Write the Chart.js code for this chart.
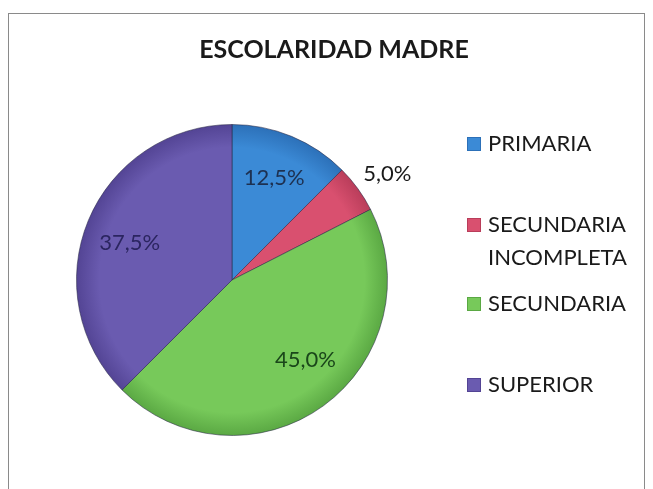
<!DOCTYPE html>
<html>
<head>
<meta charset="utf-8">
<script src="https://cdn.jsdelivr.net/npm/chart.js@4.4.1/dist/chart.umd.min.js"></script>
<style>
  body { margin: 0; background: #fff; }
  #wrap { position: relative; width: 653px; height: 489px; overflow: hidden; }
  #frame { position: absolute; left: 8px; top: 13px; width: 637px; height: 500px; border: 1.5px solid #8a8a8a; box-sizing: border-box; }
  canvas { position: absolute; left: 0; top: 0; }
</style>
</head>
<body>
<div id="wrap">
  <div id="frame"></div>
  <canvas id="myChart" width="653" height="489"></canvas>
</div>
<script>
// data
const categories = ["PRIMARIA", "SECUNDARIA INCOMPLETA", "SECUNDARIA", "SUPERIOR"];
const legendLines = [["PRIMARIA"], ["SECUNDARIA", "INCOMPLETA"], ["SECUNDARIA"], ["SUPERIOR"]];
const values = [12.5, 5.0, 45.0, 37.5];
const colors = ["#3b8ad6", "#d9506f", "#77c95a", "#6a5bb0"];
const edgeColors = ["#2c70b8", "#b93d5a", "#5aa843", "#534494"];
const labelColors = ["#1d3050", "#1a1a1a", "#1a461a", "#2b2560"];

// where each value label sits: fraction through the slice, fraction of radius
const labelPos = [[0.5, 0.71], [0.59, 1.21], [0.46, 0.70], [0.48, 0.70]];
// legend rows (y of first line)
const legendY = [144, 225, 304, 385];

const fmt = (v) => v.toFixed(1).replace(".", ",") + "%";

// lighter in the middle, darker toward the rim
const sliceFill = (c) => {
  const area = c.chart.chartArea;
  if (!area) return colors[c.dataIndex];
  const cx = (area.left + area.right) / 2;
  const cy = (area.top + area.bottom) / 2;
  const r = Math.min(area.right - area.left, area.bottom - area.top) / 2;
  const g = c.chart.ctx.createRadialGradient(cx, cy, 0, cx, cy, r);
  g.addColorStop(0, colors[c.dataIndex]);
  g.addColorStop(0.85, colors[c.dataIndex]);
  g.addColorStop(1, edgeColors[c.dataIndex]);
  return g;
};

const pieText = {
  id: "pieText",
  afterDatasetsDraw(chart) {
    const ctx = chart.ctx;
    const meta = chart.getDatasetMeta(0);
    ctx.save();
    ctx.font = "22px Lato";
    ctx.textAlign = "center";
    ctx.textBaseline = "middle";
    meta.data.forEach((arc, i) => {
      const p = arc.getProps(["x", "y", "startAngle", "endAngle", "outerRadius"], true);
      const a = p.startAngle + (p.endAngle - p.startAngle) * labelPos[i][0];
      const r = p.outerRadius * labelPos[i][1];
      ctx.fillStyle = labelColors[i];
      ctx.fillText(fmt(values[i]), p.x + Math.cos(a) * r, p.y + Math.sin(a) * r);
    });
    ctx.restore();
  },
  afterDraw(chart) {
    const ctx = chart.ctx;
    ctx.save();
    // title
    ctx.fillStyle = "#1a1a1a";
    ctx.font = "bold 25px Lato";
    ctx.textAlign = "center";
    ctx.textBaseline = "middle";
    ctx.fillText("ESCOLARIDAD MADRE", 334, 50);
    // legend
    ctx.font = "22px Lato";
    ctx.textAlign = "left";
    legendLines.forEach((lines, i) => {
      const y = legendY[i];
      ctx.fillStyle = colors[i];
      ctx.fillRect(467, y - 7, 14, 14);
      ctx.strokeStyle = edgeColors[i];
      ctx.lineWidth = 1;
      ctx.strokeRect(467.5, y - 6.5, 13, 13);
      ctx.fillStyle = "#1a1a1a";
      lines.forEach((t, j) => ctx.fillText(t, 488, y + j * 33));
    });
    ctx.restore();
  }
};

const config = {
  type: "pie",
  data: {
    labels: categories,
    datasets: [{
      data: values,
      backgroundColor: sliceFill,
      borderColor: "rgba(40,40,70,0.55)",
      borderWidth: 1
    }]
  },
  options: {
    responsive: false,
    animation: false,
    layout: { padding: { top: 124, left: 76, right: 265, bottom: 53 } },
    plugins: {
      legend: { display: false },
      tooltip: { enabled: false },
      title: { display: false }
    }
  },
  plugins: [pieText]
};

const myChart = new Chart(document.getElementById("myChart"), config);
</script>
</body>
</html>
